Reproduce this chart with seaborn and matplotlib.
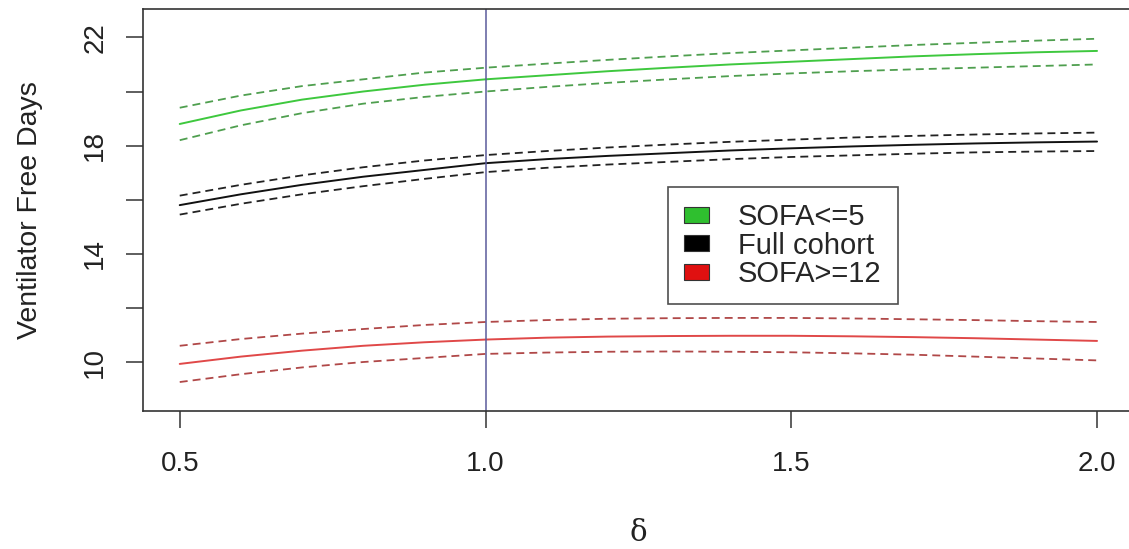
import numpy as np
import pandas as pd
import matplotlib
matplotlib.use("Agg")
import matplotlib.pyplot as plt
import seaborn as sns
from matplotlib.patches import Patch

# data
delta = [0.5, 0.6, 0.7, 0.8, 0.9, 1.0, 1.1, 1.2, 1.3, 1.4, 1.5, 1.6, 1.7, 1.8, 1.9, 2.0]

low_mean = [18.8, 19.3, 19.7, 20.0, 20.25, 20.45, 20.6, 20.75, 20.88, 21.0, 21.1, 21.2, 21.3, 21.38, 21.45, 21.5]
low_upper = [19.4, 19.85, 20.2, 20.45, 20.7, 20.88, 21.03, 21.17, 21.3, 21.42, 21.52, 21.62, 21.72, 21.8, 21.88, 21.95]
low_lower = [18.2, 18.75, 19.2, 19.55, 19.8, 20.0, 20.17, 20.32, 20.45, 20.57, 20.67, 20.75, 20.82, 20.88, 20.94, 21.0]

full_mean = [15.8, 16.2, 16.55, 16.85, 17.1, 17.35, 17.5, 17.62, 17.72, 17.82, 17.9, 17.97, 18.03, 18.08, 18.12, 18.15]
full_upper = [16.15, 16.55, 16.9, 17.2, 17.45, 17.65, 17.8, 17.93, 18.04, 18.14, 18.22, 18.3, 18.36, 18.41, 18.45, 18.48]
full_lower = [15.45, 15.85, 16.2, 16.5, 16.77, 17.02, 17.18, 17.3, 17.4, 17.5, 17.58, 17.64, 17.7, 17.75, 17.78, 17.8]

high_mean = [9.93, 10.2, 10.42, 10.6, 10.73, 10.83, 10.9, 10.94, 10.96, 10.97, 10.97, 10.95, 10.92, 10.88, 10.83, 10.78]
high_upper = [10.6, 10.85, 11.05, 11.22, 11.37, 11.48, 11.55, 11.6, 11.62, 11.63, 11.63, 11.61, 11.58, 11.55, 11.51, 11.48]
high_lower = [9.26, 9.55, 9.8, 10.0, 10.15, 10.3, 10.35, 10.38, 10.39, 10.38, 10.36, 10.32, 10.27, 10.2, 10.13, 10.06]

groups = ["SOFA<=5", "Full cohort", "SOFA>=12"]
solid_colors = ["#3ec83e", "#111111", "#e04848"]
dash_colors = ["#4f9f4f", "#222222", "#b04848"]
legend_colors = ["#2fbf2f", "#000000", "#e01010"]

series = {
    "SOFA<=5": (low_mean, low_upper, low_lower),
    "Full cohort": (full_mean, full_upper, full_lower),
    "SOFA>=12": (high_mean, high_upper, high_lower),
}

sns.set_style("ticks")
plt.rcParams["font.family"] = ["Liberation Sans", "DejaVu Sans"]

fig = plt.figure(figsize=(11.29, 5.49), dpi=100)
ax = fig.add_axes([0.1267, 0.2514, 0.8775, 0.7322])

for g, sc, dc in zip(groups, solid_colors, dash_colors):
    m, u, l = series[g]
    df = pd.DataFrame({"delta": delta, "mean": m, "upper": u, "lower": l})
    sns.lineplot(data=df, x="delta", y="mean", color=sc, lw=1.4, ax=ax)
    for col in ["upper", "lower"]:
        sns.lineplot(data=df, x="delta", y=col, color=dc, lw=1.3,
                     linestyle=(0, (4.4, 2.8)), ax=ax)

ax.axvline(1.0, color="#5b5b9b", lw=1.1)

ax.set_xlim(0.44, 2.06)
ax.set_ylim(8.19, 23.05)
ax.set_xticks([0.5, 1.0, 1.5, 2.0])
ax.set_xticklabels(["0.5", "1.0", "1.5", "2.0"])
ax.set_yticks([10, 12, 14, 16, 18, 20, 22])
ax.set_yticklabels(["10", "", "14", "", "18", "", "22"], rotation=90, va="center")
ax.tick_params(axis="both", length=12, width=1.1, color="#333333",
               labelsize=20, labelcolor="#222222")
ax.tick_params(axis="x", pad=17)
ax.tick_params(axis="y", pad=13)

for s in ax.spines.values():
    s.set_color("#333333")
    s.set_linewidth(1.2)

ax.set_xlabel("δ", fontsize=21, family=["DejaVu Serif"], labelpad=30, color="#222222")
ax.set_ylabel("Ventilator Free Days", fontsize=20.5, color="#222222")
ax.yaxis.set_label_coords(-0.101, 0.5)

handles = [Patch(facecolor=c, edgecolor="#333333", lw=0.8) for c in legend_colors]
ax.legend(handles, groups, loc="upper left", bbox_to_anchor=(0.530, 0.557),
          fontsize=21, frameon=True, fancybox=False, edgecolor="#222222",
          handlelength=0.85, handleheight=0.45, handletextpad=1.0,
          labelspacing=0.02, borderpad=0.55, borderaxespad=0)
ax.get_legend().get_frame().set_linewidth(1.2)

fig.savefig("out.png", dpi=100)
